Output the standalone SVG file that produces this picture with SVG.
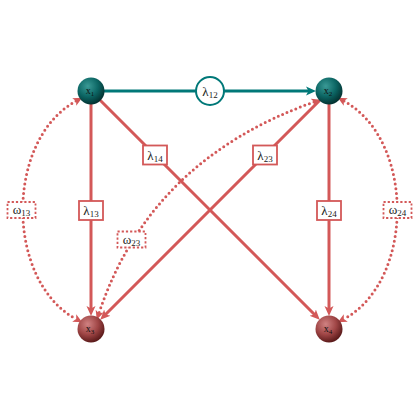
<svg xmlns="http://www.w3.org/2000/svg" width="420" height="420" viewBox="0 0 420 420">
<style>
.e{fill:none;stroke:#d35858;stroke-width:3}
.t{fill:none;stroke:#007878;stroke-width:3}
.d{fill:none;stroke:#d35858;stroke-width:3;stroke-dasharray:0 4.8;stroke-linecap:round}
.lb{fill:#fff;stroke:#d35858;stroke-width:1.8}
.wb{fill:#fff;stroke:#d35858;stroke-width:1.8;stroke-dasharray:2.2 2}
.lc{fill:#fff;stroke:#007878;stroke-width:2}
.tx{font-family:"Liberation Serif","DejaVu Serif",serif;font-size:13px;fill:#222;text-anchor:middle}
.nx{font-family:"Liberation Serif","DejaVu Serif",serif;font-size:10px;fill:#111;text-anchor:middle}
</style>
<defs>
<radialGradient id="gt" cx="0.38" cy="0.32" r="0.7">
<stop offset="0" stop-color="#3a9a96"/>
<stop offset="0.55" stop-color="#0c6664"/>
<stop offset="1" stop-color="#03302f"/>
</radialGradient>
<radialGradient id="gr" cx="0.38" cy="0.32" r="0.7">
<stop offset="0" stop-color="#d08282"/>
<stop offset="0.55" stop-color="#a04646"/>
<stop offset="1" stop-color="#581818"/>
</radialGradient>
<marker id="ar" viewBox="0 -5 11 10" refX="4" refY="0" markerWidth="11" markerHeight="10" markerUnits="userSpaceOnUse" orient="auto">
<path d="M0,-4.5 L10,0 L0,4.5 L2.5,0 z" fill="#d35858"/>
</marker>
<marker id="at" viewBox="0 -5 11 10" refX="4" refY="0" markerWidth="11" markerHeight="10" markerUnits="userSpaceOnUse" orient="auto">
<path d="M0,-4.5 L10,0 L0,4.5 L2.5,0 z" fill="#007878"/>
</marker>
<marker id="ad" viewBox="0 -5 10 10" refX="2" refY="0" markerWidth="10" markerHeight="10" markerUnits="userSpaceOnUse" orient="auto">
<path d="M0,-4.2 L9,0 L0,4.2 L2.2,0 z" fill="#d35858"/>
</marker>
<marker id="ads" viewBox="-10 -5 10 10" refX="-2" refY="0" markerWidth="10" markerHeight="10" markerUnits="userSpaceOnUse" orient="auto">
<path d="M0,-4.2 L-9,0 L0,4.2 L-2.2,0 z" fill="#d35858"/>
</marker>
</defs>
<g id="connectors">
<line class="t" x1="104" y1="91" x2="310" y2="91" marker-end="url(#at)"/>
<line class="e" x1="91" y1="104" x2="91" y2="310" marker-end="url(#ar)"/>
<line class="e" x1="329" y1="104" x2="329" y2="310" marker-end="url(#ar)"/>
<line class="e" x1="100.2" y1="100.2" x2="315.5" y2="315.5" marker-end="url(#ar)"/>
<line class="e" x1="319.8" y1="100.2" x2="104.5" y2="315.5" marker-end="url(#ar)"/>
<path class="d" d="M76,101 C5,140 5,280 76,319" marker-start="url(#ads)" marker-end="url(#ad)"/>
<path class="d" d="M344,101 C415,140 415,280 344,319" marker-start="url(#ads)" marker-end="url(#ad)"/>
<path class="d" d="M314,102 Q150,160 99,313" marker-start="url(#ads)" marker-end="url(#ad)"/>
</g>
<g id="edge-labels">
<g id="l12"><circle class="lc" cx="210" cy="91" r="14"/><text class="tx" x="210" y="96">λ<tspan font-size="9" dy="2">12</tspan></text></g>
<g id="l13"><rect class="lb" x="79" y="201" width="24" height="19"/><text class="tx" x="91" y="215">λ<tspan font-size="9" dy="2">13</tspan></text></g>
<g id="l14"><rect class="lb" x="143" y="145.5" width="24" height="19"/><text class="tx" x="155" y="159.5">λ<tspan font-size="9" dy="2">14</tspan></text></g>
<g id="l23"><rect class="lb" x="253" y="145.5" width="24" height="19"/><text class="tx" x="265" y="159.5">λ<tspan font-size="9" dy="2">23</tspan></text></g>
<g id="l24"><rect class="lb" x="317" y="201" width="24" height="19"/><text class="tx" x="329" y="215">λ<tspan font-size="9" dy="2">24</tspan></text></g>
<g id="w13"><rect class="wb" x="7.5" y="202" width="28" height="16"/><text class="tx" x="21.5" y="214">ω<tspan font-size="9" dy="2">13</tspan></text></g>
<g id="w24"><rect class="wb" x="383.5" y="202" width="28" height="16"/><text class="tx" x="397.5" y="214">ω<tspan font-size="9" dy="2">24</tspan></text></g>
<g id="w23"><rect class="wb" x="117.5" y="231.5" width="28" height="16"/><text class="tx" x="131.5" y="243.5">ω<tspan font-size="9" dy="2">23</tspan></text></g>
</g>
<g id="x1"><circle cx="91" cy="91" r="13.5" fill="url(#gt)"/><text class="nx" x="90" y="94">x<tspan font-size="7" dy="2">1</tspan></text></g>
<g id="x2"><circle cx="329" cy="91" r="13.5" fill="url(#gt)"/><text class="nx" x="328" y="94">x<tspan font-size="7" dy="2">2</tspan></text></g>
<g id="x3"><circle cx="91" cy="329" r="13.5" fill="url(#gr)"/><text class="nx" x="90" y="332">x<tspan font-size="7" dy="2">3</tspan></text></g>
<g id="x4"><circle cx="329" cy="329" r="13.5" fill="url(#gr)"/><text class="nx" x="328" y="332">x<tspan font-size="7" dy="2">4</tspan></text></g>
</svg>
